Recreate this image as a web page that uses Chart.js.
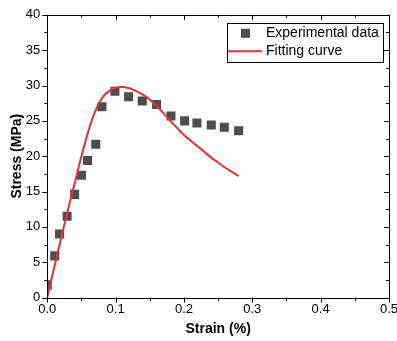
<!DOCTYPE html>
<html>
<head>
<meta charset="utf-8">
<script src="https://cdn.jsdelivr.net/npm/chart.js@4.4.1/dist/chart.umd.min.js"></script>
<style>
  html, body { margin: 0; padding: 0; background: #fff; }
  #wrap { width: 397px; height: 341px; }
</style>
</head>
<body>
<div id="wrap"><canvas id="chart" width="397" height="341"></canvas></div>
<script>
// ===============================
// DATA
// ===============================
const expStrain = [0.0, 0.011, 0.018, 0.029, 0.040, 0.050, 0.059, 0.071, 0.080, 0.099, 0.119, 0.139, 0.160, 0.181, 0.201, 0.219, 0.240, 0.259, 0.280];
const expStress = [1.8, 5.9, 9.0, 11.5, 14.6, 17.3, 19.4, 21.7, 27.0, 29.2, 28.4, 27.8, 27.3, 25.7, 25.0, 24.7, 24.4, 24.1, 23.6];

const fitStrain = [0.0, 0.01, 0.02, 0.03, 0.04, 0.05, 0.06, 0.07, 0.08, 0.09, 0.10, 0.11, 0.12, 0.13, 0.14, 0.15, 0.16, 0.17, 0.18, 0.19, 0.20, 0.21, 0.22, 0.23, 0.24, 0.25, 0.26, 0.27, 0.28];
const fitStress = [0.0, 4.2, 8.3, 12.3, 16.1, 20.0, 23.5, 26.3, 28.2, 29.2, 29.7, 29.8, 29.6, 29.2, 28.7, 28.0, 27.1, 26.1, 25.0, 24.0, 23.0, 22.2, 21.4, 20.6, 19.8, 19.1, 18.4, 17.8, 17.2];

const xTicks = [0, 0.1, 0.2, 0.3, 0.4, 0.5];
const yTicks = [0, 5, 10, 15, 20, 25, 30, 35, 40];

const toPoints = (xs, ys) => xs.map((x, i) => ({ x: x, y: ys[i] }));

// ===============================
// FRAME + TICKS + LEGEND
// ===============================
const framePlugin = {
    id: "frame",
    afterDraw(chart) {
        const ctx = chart.ctx;
        const a = chart.chartArea;
        const xs = chart.scales.x;
        const ys = chart.scales.y;
        ctx.save();
        ctx.strokeStyle = "#000";
        ctx.lineWidth = 1;
        ctx.strokeRect(Math.round(a.left) + 0.5, Math.round(a.top) + 0.5,
            Math.round(a.right - a.left), Math.round(a.bottom - a.top));

        ctx.beginPath();
        for (let i = 0; i < xTicks.length * 2 - 1; i++) {
            const v = i * 0.05;
            const len = i % 2 === 0 ? 5 : 3;
            const px = Math.round(xs.getPixelForValue(v)) + 0.5;
            ctx.moveTo(px, a.bottom); ctx.lineTo(px, a.bottom + len);
            ctx.moveTo(px, a.top); ctx.lineTo(px, a.top + len);
        }
        for (let i = 0; i < yTicks.length * 2 - 1; i++) {
            const v = i * 2.5;
            const len = i % 2 === 0 ? 5 : 3;
            const py = Math.round(ys.getPixelForValue(v)) + 0.5;
            ctx.moveTo(a.left, py); ctx.lineTo(a.left - len, py);
            ctx.moveTo(a.right, py); ctx.lineTo(a.right - len, py);
        }
        ctx.stroke();

        // legend box
        const bx = a.right - 162, by = a.top + 8, bw = 156, bh = 39;
        ctx.strokeRect(Math.round(bx) + 0.5, Math.round(by) + 0.5, bw, bh);
        const ds = chart.data.datasets;
        ctx.font = "14px 'Liberation Sans', Arial, sans-serif";
        ctx.textBaseline = "middle";
        ctx.fillStyle = "#000";
        ctx.fillText(ds[0].label, bx + 39, by + 10);
        ctx.fillText(ds[1].label, bx + 39, by + 28.5);
        ctx.fillStyle = ds[0].backgroundColor;
        ctx.fillRect(bx + 14, by + 6, 9, 9);
        ctx.strokeStyle = ds[1].borderColor;
        ctx.lineWidth = 2;
        ctx.beginPath();
        ctx.moveTo(bx + 1, by + 28.5); ctx.lineTo(bx + 35, by + 28.5);
        ctx.stroke();
        ctx.restore();
    }
};

const tickFont = { family: "'Liberation Sans', Arial, sans-serif", size: 13 };
const titleFont = { family: "'Liberation Sans', Arial, sans-serif", size: 14, weight: "bold" };

new Chart(document.getElementById("chart"), {
    type: "scatter",
    data: {
        datasets: [
            {
                label: "Experimental data",
                data: toPoints(expStrain, expStress),
                backgroundColor: "#4d4d4d",
                borderWidth: 0,
                pointStyle: "rect",
                pointRadius: 6.4,
                order: 2
            },
            {
                label: "Fitting curve",
                data: toPoints(fitStrain, fitStress),
                type: "line",
                showLine: true,
                borderColor: "#ee2e2e",
                borderWidth: 2,
                pointRadius: 0,
                cubicInterpolationMode: "monotone",
                fill: false,
                order: 1
            }
        ]
    },
    options: {
        responsive: false,
        animation: false,
        layout: { padding: { top: 14, right: 8, left: 9, bottom: 3 } },
        plugins: { legend: { display: false }, tooltip: { enabled: false } },
        scales: {
            x: {
                type: "linear",
                min: 0, max: 0.5,
                afterBuildTicks: s => { s.ticks = xTicks.map(v => ({ value: v })); },
                afterFit: s => { s.paddingRight = 0; },
                ticks: { font: tickFont, color: "#000", padding: 4, maxRotation: 0,
                    callback: v => v.toFixed(1) },
                grid: { display: false, drawTicks: false, tickLength: 0 },
                border: { display: false },
                title: { display: true, text: "Strain (%)", font: titleFont, color: "#000", padding: { top: 0, bottom: 0 } }
            },
            y: {
                type: "linear",
                min: 0, max: 40,
                afterBuildTicks: s => { s.ticks = yTicks.map(v => ({ value: v })); },
                ticks: { font: tickFont, color: "#000", padding: 7 },
                grid: { display: false, drawTicks: false, tickLength: 0 },
                border: { display: false },
                title: { display: true, text: "Stress (MPa)", font: titleFont, color: "#000", padding: { top: 0, bottom: -7 } }
            }
        }
    },
    plugins: [framePlugin]
});
</script>
</body>
</html>
